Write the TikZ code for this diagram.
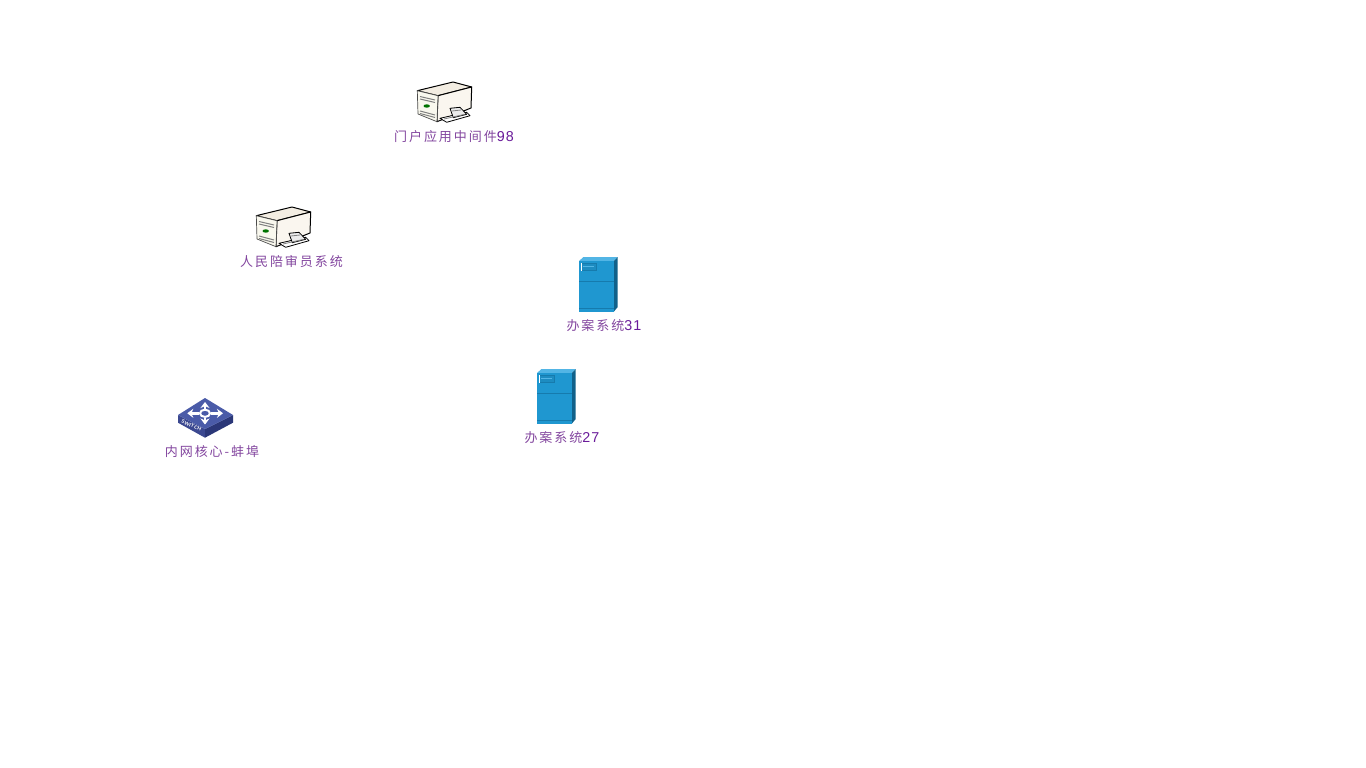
\documentclass[tikz,border=0pt]{standalone}
\usepackage{fontspec}
\usepackage{tikz}
\usetikzlibrary{arrows.meta, positioning, calc}
\usepackage{xcolor}
\newfontfamily\cjkfont[LetterSpace=15]{Noto Sans CJK SC}
\newfontfamily\numfont[LetterSpace=8,Scale=1.1]{Liberation Sans}
\definecolor{lblpurple}{HTML}{83469F}
\definecolor{numpurple}{HTML}{6A1B9A}
\definecolor{srvfront}{HTML}{F9F8EE}
\definecolor{srvside}{HTML}{FAF6EF}
\definecolor{srvtop}{HTML}{F3EDE2}
\definecolor{cabfront}{HTML}{1F97D0}
\definecolor{cabtop}{HTML}{52B5E5}
\definecolor{cabside}{HTML}{10618A}
\definecolor{cabline}{HTML}{167BAD}
\definecolor{swtop}{HTML}{4A5BA8}
\definecolor{swleft}{HTML}{3B4890}
\definecolor{swright}{HTML}{2B3778}

\begin{document}
\begin{tikzpicture}[
    x=1pt, y=-1pt,
    lbl/.style={inner sep=0pt, font=\fontsize{13}{15}\selectfont, text=lblpurple},
    srvline/.style={draw=black, line width=1pt, line join=round},
    swarrow/.style={-{Stealth[length=6pt, width=9pt]}, white, line width=2.6pt},
    server/.pic={
      \draw[srvline, fill=srvtop] (0.3,8.7) -- (36,0) -- (54.7,5) -- (21,13.7) -- cycle;
      \draw[srvline, fill=srvside] (21,13.7) -- (54.7,5) -- (54,26) -- (20,39.7) -- cycle;
      \draw[fill=srvfront, draw=black!70, line width=0.7pt, line join=round] (0.3,8.7) -- (21,13.7) -- (20,39.7) -- (1,32) -- cycle;
      \draw[gray, line width=1pt] (3,14.5) -- (18,18); \draw[gray, line width=1pt] (3,17) -- (18,20.5);
      \draw[gray, line width=1pt] (3,29) -- (18,33); \draw[gray, line width=1pt] (3,31.5) -- (18,35.5);
      \fill[green!45!black] (9.7,24) ellipse (3.2pt and 1.7pt);
      \draw[srvline, line width=0.8pt, fill=white] (23,36.3) -- (49.7,30.3) -- (53,33.7) -- (29.7,40.3) -- cycle;
      \draw[srvline, line width=0.8pt, fill=black!8] (33,26.3) -- (43,25.3) -- (49.7,32.3) -- (36.3,35.7) -- cycle;
      \draw[gray, line width=0.8pt] (35,29) -- (44,28);
      \draw[gray, line width=0.8pt] (27,37) -- (47,32.5);
    },
    cabinet/.pic={
      \fill[cabtop] (0,4) -- (4.5,0) -- (38.7,0) -- (35,4) -- cycle;
      \fill[cabside] (35,4) -- (38.7,0) -- (38.7,50) -- (35,54.5) -- cycle;
      \fill[cabfront] (0,4) rectangle (35,54.5);
      \draw[cabline, line width=1pt] (0,24.5) -- (35,24.5);
      \draw[cabline, line width=1pt] (0,51) -- (35,51);
      \draw[cabline, fill=cabfront!93!black, line width=0.6pt] (2,6.7) rectangle (17.7,13.3);
      \draw[cabtop, line width=0.6pt] (4,9.5) -- (15,9.5);
      \draw[white, line width=0.9pt] (2.3,6) -- (2.3,13.7);
    },
    switchbox/.pic={
      \fill[swleft] (0,17) -- (27,31) -- (27,39.7) -- (0,24.7) -- cycle;
      \fill[swright] (55,17) -- (27,31) -- (27,39.7) -- (55,24.7) -- cycle;
      \fill[swtop] (0,17) -- (27,0) -- (55,17) -- (27,31) -- cycle;
      \draw[white, line width=2pt] (27,15.3) ellipse (5pt and 3.6pt);
      \draw[swarrow] (27,11) -- (27,4);
      \draw[swarrow] (27,19.5) -- (27,26.5);
      \draw[swarrow] (21,15.3) -- (9.3,15.3);
      \draw[swarrow] (33,15.3) -- (45,15.3);
      \node[inner sep=0pt, text=white, rotate=-24, font=\fontsize{5}{5}\selectfont\bfseries\sffamily] (tag) at (13.5,27.5) {SWITCH};
    }]
  \useasboundingbox (0,0) rectangle (1366,768);
  \fill[white] (0,0) rectangle (1366,768);
  % icons
  \coordinate (mw) at (417,82);
  \coordinate (jury) at (256,207);
  \coordinate (case31) at (579,257);
  \coordinate (case27) at (537,369);
  \coordinate (core) at (178,398);
  \pic at (mw) {server};
  \pic at (jury) {server};
  \pic at (case31) {cabinet};
  \pic at (case27) {cabinet};
  \pic at (core) {switchbox};
  % labels
  \node[lbl] (mwlbl) at ($(mw)+(37,55)$) {{\cjkfont 门户应用中间件}{\numfont\color{numpurple}98}};
  \node[lbl] (jurylbl) at ($(jury)+(35.5,55)$) {\cjkfont 人民陪审员系统};
  \node[lbl] (case31lbl) at ($(case31)+(25,69)$) {{\cjkfont 办案系统}{\numfont\color{numpurple}31}};
  \node[lbl] (case27lbl) at ($(case27)+(25,69)$) {{\cjkfont 办案系统}{\numfont\color{numpurple}27}};
  \node[lbl] (corelbl) at ($(core)+(34,54)$) {\cjkfont 内网核心-蚌埠};
\end{tikzpicture}
\end{document}
